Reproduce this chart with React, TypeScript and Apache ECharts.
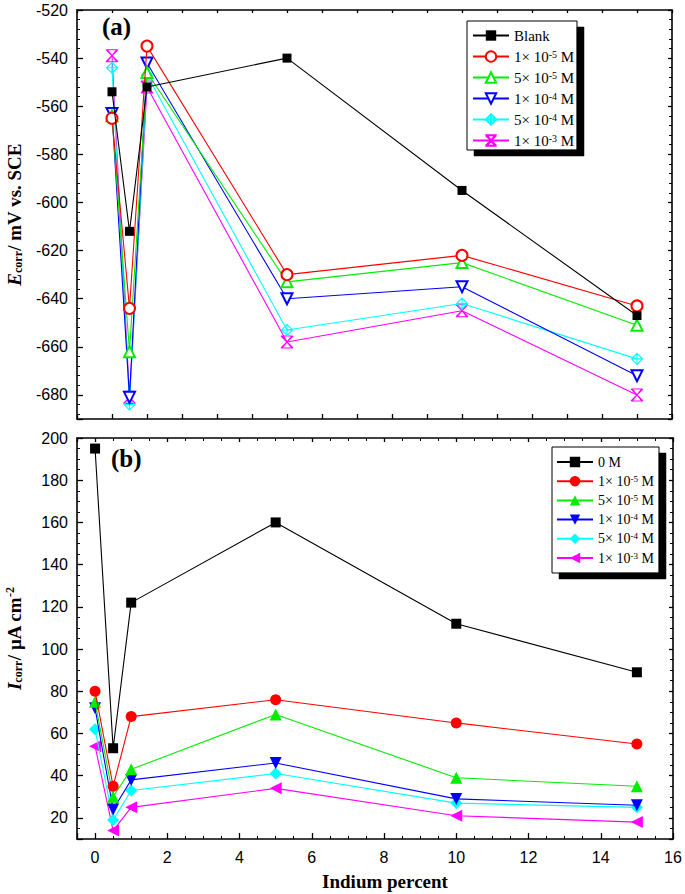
import React, { useEffect, useRef } from "react";
import * as echarts from "echarts";

// ---------- data ----------
const indiumTop = [0, 0.5, 1, 5, 10, 15];
const indiumBottom = [0, 0.5, 1, 5, 10, 15];

const ecorrBlank = [-554, -612, -552, -540, -595, -647];
const ecorr1e5 = [-565, -644, -535, -630, -622, -643];
const ecorr5e5 = [-564, -662, -546, -633, -625, -651];
const ecorr1e4 = [-563, -681, -542, -640, -635, -672];
const ecorr5e4 = [-544, -684, -547, -653, -642, -665];
const ecorr1e3 = [-539, -681, -552, -658, -645, -680];

const icorr0 = [195, 53, 122, 160, 112, 89];
const icorr1e5 = [80, 35, 68, 76, 65, 55];
const icorr5e5 = [75, 30, 43, 69, 39, 35];
const icorr1e4 = [72, 24, 38, 46, 29, 26];
const icorr5e4 = [62, 19, 33, 41, 27, 25];
const icorr1e3 = [54, 14, 25, 34, 21, 18];

const concLabels = ["1× 10{s|-5} M", "5× 10{s|-5} M", "1× 10{s|-4} M", "5× 10{s|-4} M", "1× 10{s|-3} M"];
const topNames = ["Blank", "a1", "a2", "a3", "a4", "a5"];
const bottomNames = ["0 M", "b1", "b2", "b3", "b4", "b5"];
const colors = ["#000000", "#ff0000", "#00ee00", "#0000ff", "#00ffff", "#ff00ff"];

const SERIF = "Liberation Serif";
const SANS = "Liberation Sans";

// legend frames: [x, y, w, h] and the shadow offset
const legendBoxes = [
  [467, 21, 110, 129],
  [552, 447, 107, 126],
];
const SHADOW_DX = 7;
const SHADOW_DY = 6;

const App: React.FC = () => {
  const ref = useRef<HTMLDivElement>(null);
  useEffect(() => {
    if (!ref.current) return;
    const chart = echarts.init(ref.current, null, { renderer: "svg" });

    const labelMap: Record<string, string> = {};
    topNames.forEach((n, i) => (labelMap[n] = i === 0 ? "Blank" : concLabels[i - 1]));
    bottomNames.forEach((n, i) => (labelMap[n] = i === 0 ? "0 M" : concLabels[i - 1]));

    const topData = [ecorrBlank, ecorr1e5, ecorr5e5, ecorr1e4, ecorr5e4, ecorr1e3];
    const bottomData = [icorr0, icorr1e5, icorr5e5, icorr1e4, icorr5e4, icorr1e3];

    const diamondPlus = "path://M0,-10 L10,0 L0,10 L-10,0 Z M0,-10 L0,10 M-10,0 L10,0";
    const hourglassX = "path://M-8,-10 L8,-10 L-8,10 L8,10 Z M-10,-10 L10,10 M10,-10 L-10,10";
    const topSymbols = ["rect", "emptyCircle", "emptyTriangle", "emptyTriangle", diamondPlus, hourglassX];
    const topRot = [0, 0, 0, 180, 0, 0];
    const topSizes = [9, 11, 11, 11, 11, 12];
    const bottomSymbols = ["rect", "circle", "triangle", "triangle", "diamond", "triangle"];
    const bottomRot = [0, 0, 0, 180, 0, 90];
    const bottomSizes = [10, 11, 12, 12, 12, 12];

    const series: any[] = [];
    topData.forEach((vals, i) => {
      const hollowPath = i >= 4;
      series.push({
        type: "line",
        name: topNames[i],
        xAxisIndex: 0,
        yAxisIndex: 0,
        data: indiumTop.map((x, k) => [x, vals[k]]),
        symbol: topSymbols[i],
        symbolRotate: topRot[i],
        symbolSize: topSizes[i],
        showAllSymbol: true,
        lineStyle: { color: colors[i], width: 1.1 },
        itemStyle: hollowPath
          ? { color: "rgba(255,255,255,0)", borderColor: colors[i], borderWidth: 1.1 }
          : { color: colors[i], borderColor: colors[i], borderWidth: i === 0 ? 0 : 1.1 },
        z: 10 - i,
      });
    });
    bottomData.forEach((vals, i) => {
      series.push({
        type: "line",
        name: bottomNames[i],
        xAxisIndex: 2,
        yAxisIndex: 2,
        data: indiumBottom.map((x, k) => [x, vals[k]]),
        symbol: bottomSymbols[i],
        symbolRotate: bottomRot[i],
        symbolSize: bottomSizes[i],
        showAllSymbol: true,
        lineStyle: { color: colors[i], width: 1.1 },
        itemStyle: { color: colors[i], borderWidth: 0 },
        z: 10 - i,
      });
    });

    const axisLine = { show: true, onZero: false, lineStyle: { color: "#000", width: 1.6 } };
    const tick = { show: true, inside: true, length: 6, lineStyle: { color: "#000", width: 1.3 } };
    const minor = (n: number) => ({ show: true, splitNumber: n, length: 3, lineStyle: { color: "#000", width: 1 } });
    const tickLabel = { fontFamily: SANS, fontSize: 16, color: "#000" };

    const legendCommon = {
      orient: "vertical" as const,
      backgroundColor: "transparent",
      borderWidth: 0,
      itemWidth: 36,
      itemHeight: 13,
      selectedMode: false,
      formatter: (n: string) => labelMap[n] ?? n,
      inactiveColor: "#000",
      z: 20,
    };

    // legend frame + drop shadow (shadow as two solid strips)
    const frameGraphics: any[] = [];
    legendBoxes.forEach(([x, y, w, h]) => {
      frameGraphics.push({
        type: "rect", z: 16, silent: true,
        shape: { x, y, width: w, height: h },
        style: { fill: "#ffffff", stroke: "#000000", lineWidth: 1 },
      });
      frameGraphics.push({
        type: "polygon", z: 17, silent: true,
        shape: {
          points: [
            [x + w, y + SHADOW_DY],
            [x + w + SHADOW_DX, y + SHADOW_DY],
            [x + w + SHADOW_DX, y + h + SHADOW_DY],
            [x + SHADOW_DX, y + h + SHADOW_DY],
            [x + SHADOW_DX, y + h],
            [x + w, y + h],
          ],
        },
        style: { fill: "#000000", stroke: "#000000", lineWidth: 0.5 },
      });
    });

    const option: any = {
      animation: false,
      backgroundColor: "#fff",
      grid: [
        { left: 77, top: 10, width: 595, height: 409, outerBoundsMode: "none", containLabel: false },
        { left: 77, top: 438, width: 596, height: 401, outerBoundsMode: "none", containLabel: false },
      ],
      xAxis: [
        {
          gridIndex: 0, type: "value", min: -1, max: 16, interval: 1, position: "bottom",
          axisLine, axisTick: { ...tick, length: 5 }, axisLabel: { show: false }, splitLine: { show: false },
        },
        {
          gridIndex: 0, type: "value", min: -1, max: 16, interval: 1, position: "top",
          axisLine, axisTick: { ...tick, length: 3 }, axisLabel: { show: false }, splitLine: { show: false },
        },
        {
          gridIndex: 1, type: "value", min: -0.5, max: 16, minInterval: 2, maxInterval: 2, splitNumber: 8,
          position: "bottom", axisLine, axisTick: tick, minorTick: minor(4),
          axisLabel: { ...tickLabel, margin: 10, showMinLabel: false }, splitLine: { show: false },
          name: "Indium percent", nameLocation: "middle", nameGap: 33,
          nameTextStyle: { fontFamily: SERIF, fontWeight: "bold", fontSize: 19, color: "#000", padding: [0, 0, 0, 20] },
        },
        {
          gridIndex: 1, type: "value", min: -0.5, max: 16, minInterval: 2, maxInterval: 2, splitNumber: 8,
          position: "top", axisLine, axisTick: { ...tick, length: 4 }, minorTick: minor(4),
          axisLabel: { show: false }, splitLine: { show: false },
        },
      ],
      yAxis: [
        {
          gridIndex: 0, type: "value", min: -690, max: -520, minInterval: 20, maxInterval: 20, splitNumber: 8,
          position: "left", axisLine, axisTick: tick, minorTick: minor(5),
          axisLabel: { ...tickLabel, margin: 9, showMinLabel: false }, splitLine: { show: false },
          name: "{i|E}{sub|corr}{b|/ mV vs. SCE}", nameLocation: "middle", nameGap: 53,
          nameTextStyle: {
            color: "#000",
            rich: {
              i: { fontFamily: SERIF, fontWeight: "bold", fontStyle: "italic", fontSize: 19, color: "#000", lineHeight: 20 },
              sub: { fontFamily: SERIF, fontWeight: "bold", fontSize: 12, color: "#000", verticalAlign: "bottom", lineHeight: 12 },
              b: { fontFamily: SERIF, fontWeight: "bold", fontSize: 19, color: "#000", lineHeight: 20 },
            },
          },
        },
        {
          gridIndex: 0, type: "value", min: -690, max: -520, minInterval: 20, maxInterval: 20, splitNumber: 8,
          position: "right", axisLine, axisTick: { ...tick, length: 4 }, minorTick: minor(5),
          axisLabel: { show: false }, splitLine: { show: false },
        },
        {
          gridIndex: 1, type: "value", min: 10, max: 200, minInterval: 20, maxInterval: 20, splitNumber: 10,
          position: "left", axisLine, axisTick: tick, minorTick: minor(4),
          axisLabel: { ...tickLabel, margin: 9, showMinLabel: false }, splitLine: { show: false },
          name: "{i|I}{sub|corr}{b|/ µA cm}{sup|-2}", nameLocation: "middle", nameGap: 53,
          nameTextStyle: {
            color: "#000",
            rich: {
              i: { fontFamily: SERIF, fontWeight: "bold", fontStyle: "italic", fontSize: 19, color: "#000", lineHeight: 20 },
              sub: { fontFamily: SERIF, fontWeight: "bold", fontSize: 12, color: "#000", verticalAlign: "bottom", lineHeight: 12 },
              b: { fontFamily: SERIF, fontWeight: "bold", fontSize: 19, color: "#000", lineHeight: 20 },
              sup: { fontFamily: SERIF, fontWeight: "bold", fontSize: 12, color: "#000", verticalAlign: "top", lineHeight: 12 },
            },
          },
        },
        {
          gridIndex: 1, type: "value", min: 10, max: 200, minInterval: 20, maxInterval: 20, splitNumber: 10,
          position: "right", axisLine, axisTick: { ...tick, length: 4 }, minorTick: minor(4),
          axisLabel: { show: false }, splitLine: { show: false },
        },
      ],
      legend: [
        {
          ...legendCommon,
          data: topNames,
          left: 467,
          top: 21,
          padding: [7, 4, 4, 5],
          itemGap: 6,
          textStyle: {
            fontFamily: SERIF, fontSize: 15, color: "#000",
            rich: { s: { fontFamily: SERIF, fontSize: 10, color: "#000", verticalAlign: "top", lineHeight: 10 } },
          },
        },
        {
          ...legendCommon,
          data: bottomNames,
          left: 552,
          top: 447,
          padding: [8, 3, 4, 4],
          itemGap: 5.2,
          textStyle: {
            fontFamily: SERIF, fontSize: 14, color: "#000",
            rich: { s: { fontFamily: SERIF, fontSize: 9, color: "#000", verticalAlign: "top", lineHeight: 9 } },
          },
        },
      ],
      graphic: [
        ...frameGraphics,
        { type: "text", left: 102, top: 14, style: { text: "(a)", fontFamily: SERIF, fontWeight: "bold", fontSize: 25, fill: "#000" } },
        { type: "text", left: 111, top: 446, style: { text: "(b)", fontFamily: SERIF, fontWeight: "bold", fontSize: 25, fill: "#000" } },
      ],
      series,
    };

    chart.setOption(option);
    return () => chart.dispose();
  }, []);

  return (
    <div
      ref={ref}
      style={{ position: "fixed", left: 0, top: 0, width: 685, height: 894, background: "#fff" }}
    />
  );
};

export default App;
